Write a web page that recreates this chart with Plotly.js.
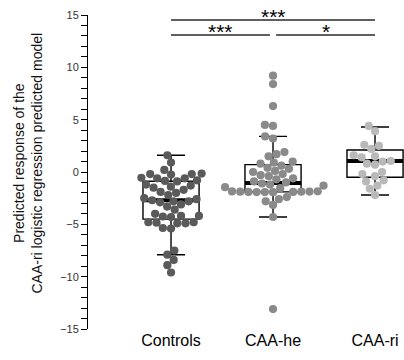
<!DOCTYPE html>
<html>
<head>
<meta charset="utf-8">
<script src="https://cdn.plot.ly/plotly-3.0.1.min.js"></script>
<style>html,body{margin:0;padding:0;background:#fff;}#chart{width:404px;height:360px;}</style>
</head>
<body>
<div id="chart"></div>
<script>
// ---- data ----
var categories = ["Controls", "CAA-he", "CAA-ri"];
var controls = [1.6, 0.9, 0.2, -0.15, -0.2, -0.2, -0.25, -0.55, -0.6, -0.6, -0.8, -0.85, -0.9,
  -1.2, -1.3, -1.4, -1.5, -1.7, -1.9, -2.0, -2.2, -2.5, -2.6, -2.7, -2.8, -2.8, -2.9, -3.1, -3.3, -3.6,
  -4.0, -4.2, -4.2, -4.25, -4.3, -4.8, -4.8, -4.85, -4.9, -4.9, -5.35, -5.4,
  -7.5, -7.9, -8.4, -8.9, -9.6];
var caaHe = [9.2, 8.4, 6.3, 4.5, 4.4, 3.4, 3.2, 1.9, 1.7, 1.5, 1.0, 0.9, 0.8,
  0.6, 0.4, 0.3, 0.1, 0.0, -0.2, -0.3, -0.4, -0.6, -0.7, -0.9, -1.0, -1.1, -1.2, -1.3, -1.45, -1.55,
  -1.85, -1.86, -1.87, -1.88, -1.88, -1.9, -1.9, -1.92, -1.92, -1.93,
  -2.4, -2.6, -2.8, -3.15, -4.3, -13.1];
var caaRi = [4.4, 3.9, 2.6, 2.5, 2.2, 1.6, 1.5, 1.4, 1.05, 1.0, 0.8, 0.7,
  0.0, -0.2, -0.4, -0.8, -0.9, -1.3, -1.6, -2.2];
var boxQ1 = [-4.5, -1.9, -0.5];
var boxMedian = [-2.7, -1.05, 1.05];
var boxQ3 = [-0.88, 0.7, 2.1];
var boxLower = [-7.9, -4.3, -2.2];
var boxUpper = [1.6, 3.4, 4.3];
var pointColors = ["#5a5a5a", "#8a8a8a", "#b9b9b9"];
var sigLabels = ["***", "***", "*"];

// ---- geometry ----
var W = 404, H = 360;
var mL = 88, mR = 0, mT = 15, mB = 31;
var xRange = [-0.814, 2.284];
var yRange = [-15, 15];
var kx = (W - mL - mR) / (xRange[1] - xRange[0]);
var ky = (H - mT - mB) / (yRange[1] - yRange[0]);
var dotD = 8.2;
var boxW = 0.55;

function swarm(vals, center) {
  var order = vals.map(function (v, i) { return i; }).sort(function (a, b) { return vals[a] - vals[b]; });
  var placed = [];
  var xs = new Array(vals.length);
  order.forEach(function (i) {
    var y = vals[i] * ky;
    var cands = [0];
    placed.forEach(function (p) {
      var dy = y - p.y;
      if (Math.abs(dy) < dotD) {
        var dx = Math.sqrt(dotD * dotD - dy * dy);
        cands.push(p.x - dx, p.x + dx);
      }
    });
    cands.sort(function (a, b) { return Math.abs(a) - Math.abs(b) || a - b; });
    var chosen = 0;
    for (var c = 0; c < cands.length; c++) {
      var ok = true;
      for (var j = 0; j < placed.length; j++) {
        var ddx = cands[c] - placed[j].x, ddy = y - placed[j].y;
        if (ddx * ddx + ddy * ddy < dotD * dotD - 0.01) { ok = false; break; }
      }
      if (ok) { chosen = cands[c]; break; }
    }
    placed.push({ x: chosen, y: y });
    xs[i] = center + chosen / kx;
  });
  return xs;
}

var groups = [controls, caaHe, caaRi];
var traces = [];
groups.forEach(function (g, k) {
  traces.push({
    type: "box", x: [k], q1: [boxQ1[k]], median: [boxMedian[k]], q3: [boxQ3[k]],
    lowerfence: [boxLower[k]], upperfence: [boxUpper[k]],
    width: boxW, whiskerwidth: 0.5, boxpoints: false,
    fillcolor: "#ffffff", line: { color: "#000000", width: 1.4 },
    hoverinfo: "skip", showlegend: false
  });
});
groups.forEach(function (g, k) {
  traces.push({
    type: "scatter", mode: "lines", x: [k - boxW / 2, k + boxW / 2], y: [boxMedian[k], boxMedian[k]],
    line: { color: "#000000", width: 4 }, hoverinfo: "skip", showlegend: false
  });
});
groups.forEach(function (g, k) {
  traces.push({
    type: "scatter", mode: "markers", x: swarm(g, k), y: g,
    marker: { color: pointColors[k], size: 8.2, line: { width: 0 } },
    hoverinfo: "skip", showlegend: false, cliponaxis: false
  });
});

var comps = [[0, 2, 14.52, 0], [0, 0.97, 13.09, 1], [1.03, 2, 13.09, 2]];
var shapes = comps.map(function (c) {
  return { type: "line", xref: "x", yref: "y", x0: c[0], x1: c[1], y0: c[2], y1: c[2],
    line: { color: "#5f5f5f", width: 2 } };
});
var annotations = comps.map(function (c) {
  return { xref: "x", yref: "y", x: (c[0] + c[1]) / 2, y: c[2], yanchor: "bottom", yshift: -10,
    text: sigLabels[c[3]], showarrow: false, font: { family: "Arial, Liberation Sans", size: 21, color: "#000" } };
});
annotations.push({
  xref: "paper", yref: "paper", x: (28 - mL) / (W - mL - mR), y: (H - mB - 163.5) / (H - mT - mB),
  xanchor: "center", yanchor: "middle", textangle: -90, showarrow: false,
  text: "Predicted response of the<br>CAA-ri logistic regression predicted model",
  font: { family: "Arial, Liberation Sans", size: 14, color: "#111" }
});

var layout = {
  width: W, height: H,
  margin: { l: mL, r: mR, t: mT, b: mB, pad: 0 },
  paper_bgcolor: "#fff", plot_bgcolor: "#fff",
  showlegend: false,
  xaxis: {
    range: xRange, tickvals: [0, 1, 2], ticktext: categories,
    showline: false, showgrid: false, zeroline: false, ticks: "",
    tickfont: { family: "Arial, Liberation Sans", size: 16, color: "#000" }
  },
  yaxis: {
    range: yRange, dtick: 5, tick0: 0, showline: true, linecolor: "#000", linewidth: 1,
    ticks: "outside", ticklen: 6, tickwidth: 1, tickcolor: "#000",
    minor: { dtick: 1, ticks: "outside", ticklen: 6, tickwidth: 1, tickcolor: "#000", showgrid: false },
    showgrid: false, zeroline: false,
    tickfont: { family: "Arial, Liberation Sans", size: 11, color: "#333" }
  },
  shapes: shapes,
  annotations: annotations
};

Plotly.newPlot("chart", traces, layout, { staticPlot: true, displayModeBar: false });
</script>
</body>
</html>
